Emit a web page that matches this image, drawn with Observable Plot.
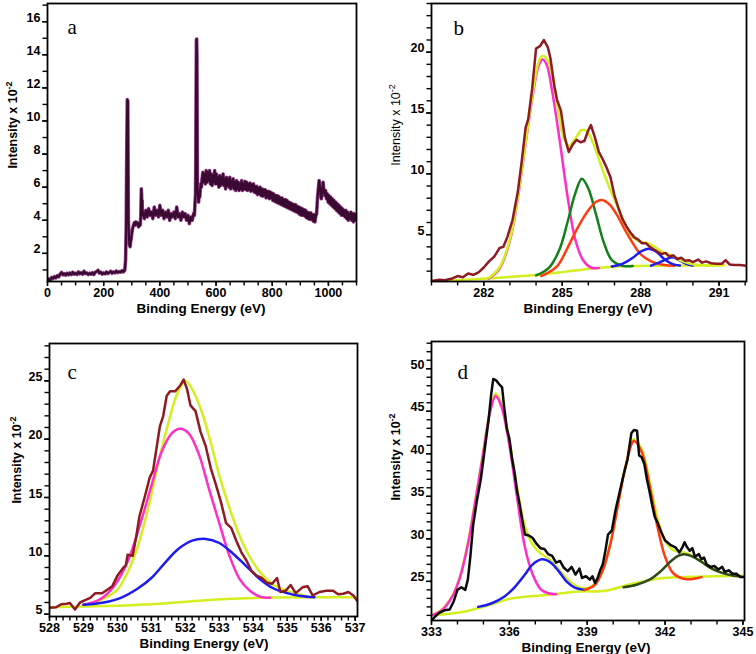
<!DOCTYPE html>
<html><head><meta charset="utf-8">
<script src="https://cdn.jsdelivr.net/npm/d3@7"></script>
<script src="https://cdn.jsdelivr.net/npm/@observablehq/plot@0.6"></script>
<style>
body{margin:0;background:#fff}
#wrap{position:relative;width:756px;height:654px;overflow:hidden;background:#fff}
</style>
</head><body><div id="wrap"></div>
<script>
// ---------- Panel a: survey spectrum [BE, I] ----------
const survey = [[0,0.32],[5,0.45],[10,0.38],[15,0.55],[20,0.48],[25,0.6],[30,0.52],[35,0.66],[40,0.58],[45,0.75],[50,0.85],[55,0.7],[60,0.78],[65,0.68],[70,0.8],[75,0.7],[80,0.82],[85,0.72],[90,0.86],[95,0.74],[100,0.8],[105,0.72],[110,0.88],[115,0.76],[120,0.84],[125,0.74],[130,0.92],[135,0.78],[140,0.82],[145,0.72],[150,0.8],[155,0.74],[160,0.84],[165,0.72],[170,0.86],[175,0.9],[180,0.98],[185,0.8],[190,0.86],[195,0.74],[200,0.82],[205,0.76],[210,0.88],[215,0.78],[220,0.84],[225,0.92],[230,0.8],[235,0.88],[240,0.82],[245,0.94],[250,0.84],[255,0.9],[260,0.86],[265,0.96],[270,0.88],[275,0.98],
[278,1.6],[280,3.5],[282,8.0],[284,11.3],[285,10.5],[286,11.2],[287,7.0],[288,4.0],[290,3.0],[292,2.5],[294,2.4],[296,2.7],[298,2.9],[300,3.2],[303,3.5],[306,3.7],[309,3.85],[312,3.7],[315,3.9],[318,3.75],[321,3.85],[324,3.6],[327,3.8],[330,3.7],[332,4.2],[334,5.9],[335,5.6],[336,4.6],[337,5.2],[338,4.3],[340,4.5],
[345,4.1],[350,4.6],[355,4.2],[360,4.7],[365,4.3],[370,4.5],[375,4.1],[380,4.8],[385,4.3],[390,4.6],[395,4.2],[400,4.9],[405,4.3],[410,4.6],[415,4.1],[420,4.5],[425,4.2],[430,4.6],[435,4.0],[440,4.4],[445,4.2],[450,4.5],[455,4.1],[460,4.8],[465,4.2],[470,4.4],[475,4.0],[480,4.5],[485,4.2],[490,4.4],[495,4.0],[500,4.3],[505,3.8],[510,4.2],[515,4.0],[520,4.4],[523,4.3],[525,5.0],[527,5.6],[528,8.0],[529,12.0],[530,14.9],[531,14.95],[532,14.0],[533,8.5],[534,6.0],[536,5.4],[538,5.1],[540,5.6],[542,5.4],[544,5.9],[546,6.2],[548,6.0],[550,6.5],
[553,6.9],[556,6.3],[559,6.8],[562,6.2],[565,7.0],[568,6.3],[571,6.9],[574,6.4],[577,7.0],[580,6.2],[583,6.8],[586,6.1],[589,6.7],[592,6.3],[595,7.0],[598,6.2],[601,6.8],[604,6.2],[607,6.6],[610,6.0],[613,6.7],[616,6.1],[619,6.6],[622,6.2],[625,6.8],[628,6.1],[631,6.5],[634,5.9],[637,6.6],[640,6.1],[643,6.5],[646,6.0],[649,6.6],[652,5.9],[655,6.4],[658,6.0],[661,6.5],[664,5.9],[667,6.3],[670,5.8],[673,6.4],[676,5.9],[679,6.3],[682,5.8],[685,6.2],[688,5.9],[691,6.4],[694,5.8],[697,6.2],
[700,5.9],[703,6.35],[706,5.85],[709,6.3],[712,5.8],[715,6.2],[718,5.85],[721,6.25],[724,5.75],[727,6.15],[730,5.8],[733,6.2],[736,5.7],[739,6.05],[742,5.65],[745,6.05],[748,5.55],[751,5.95],[754,5.6],[757,6.0],[760,5.5],[763,5.9],[766,5.45],[769,5.85],[772,5.5],[775,5.85],[778,5.35],[781,5.75],[784,5.4],[787,5.75],[790,5.3],[793,5.7],[796,5.35],[799,5.65],[802,5.2],[805,5.6],[808,5.15],[811,5.5],[814,5.1],[817,5.5],[820,5.05],[823,5.45],[826,5.0],[829,5.35],[832,4.95],[835,5.35],[838,4.9],[841,5.25],[844,4.85],[847,5.25],[850,4.8],[853,5.2],[856,4.75],[859,5.1],[862,4.7],[865,5.05],[868,4.65],[871,5.0],[874,4.6],[877,4.95],[880,4.55],[883,4.95],[886,4.5],[889,4.85],[892,4.45],[895,4.8],[898,4.35],[901,4.75],[904,4.3],[907,4.7],[910,4.3],[913,4.65],[916,4.25],[919,4.6],[922,4.15],[925,4.5],[928,4.1],[931,4.45],[934,4.05],[937,4.45],[940,4.05],[943,4.35],[946,3.95],[949,4.35],[952,3.9],[955,4.25],
[958,4.4],[961,5.3],[964,5.9],[967,6.4],[970,6.0],[972,5.5],[975,5.3],[978,5.8],[981,6.3],[984,5.8],[987,5.5],[990,5.8],[993,5.3],[996,5.6],[999,5.1],[1002,5.5],[1005,5.0],[1008,5.4],[1011,4.9],[1014,5.3],[1017,4.8],[1020,5.2],[1023,4.7],[1026,5.1],[1029,4.6],[1032,5.0],[1035,4.5],[1038,4.9],[1041,4.4],[1044,4.8],[1047,4.3],[1050,4.7],[1053,4.3],[1056,4.6],[1059,4.2],[1062,4.6],[1065,4.1],[1068,4.5],[1071,4.0],[1074,4.4],[1077,4.1],[1080,4.5],[1083,4.0],[1086,4.4],[1089,3.9],[1092,4.4],[1095,4.0],[1098,4.3],[1100,4.1]];

// ---------- Panel b: C 1s ----------
const c1sRaw = [[280.0,1.2],[280.3,1.3],[280.5,1.25],[280.8,1.4],[281.0,1.6],[281.2,1.5],[281.4,1.8],[281.6,1.7],[281.8,1.9],[282.0,2.3],[282.2,2.8],[282.4,3.2],[282.6,3.9],[282.75,4.0],[282.9,4.8],[283.1,6.2],[283.3,8.5],[283.45,11.0],[283.6,13.8],[283.7,14.5],[283.85,17.0],[284.0,20.3],[284.15,20.5],[284.3,21.0],[284.45,20.4],[284.55,19.5],[284.7,17.2],[284.8,16.1],[284.95,15.2],[285.1,13.0],[285.25,11.8],[285.4,12.4],[285.55,12.8],[285.7,12.6],[285.85,12.7],[286.0,13.6],[286.1,14.0],[286.25,13.0],[286.4,11.8],[286.55,11.2],[286.7,10.5],[286.85,9.7],[287.0,8.2],[287.15,7.2],[287.3,6.3],[287.45,5.7],[287.6,5.2],[287.75,4.8],[287.9,4.6],[288.05,4.3],[288.2,4.3],[288.35,4.0],[288.5,3.8],[288.65,3.6],[288.8,3.4],[288.95,3.5],[289.1,3.2],[289.25,3.3],[289.4,3.0],[289.55,3.1],[289.7,2.85],[289.85,2.9],[290.0,2.75],[290.2,2.95],[290.35,2.7],[290.5,2.8],[290.7,2.65],[290.9,2.6],[291.1,2.6],[291.25,2.9],[291.4,2.55],[291.6,2.5],[291.8,2.5],[292.05,2.45]];
const c1sBase = [[280.0,1.15],[281.0,1.25],[282.0,1.38],[283.0,1.52],[284.0,1.68],[285.0,1.92],[285.6,2.08],[286.2,2.24],[286.9,2.35],[287.6,2.42],[288.5,2.45],[290.0,2.47],[291.2,2.48]];
const c1sCC = [[282.2,1.4],[282.6,2.2],[283.0,4.5],[283.3,8.0],[283.6,12.5],[283.9,16.8],[284.1,18.9],[284.25,19.4],[284.4,19.0],[284.6,17.0],[284.9,12.8],[285.2,8.2],[285.5,4.6],[285.8,2.9],[286.1,2.3],[286.4,2.25]];
const c1sCO = [[284.0,1.65],[284.5,2.3],[284.9,3.8],[285.2,6.0],[285.5,8.4],[285.75,9.6],[286.0,8.8],[286.3,6.6],[286.6,4.3],[286.9,2.9],[287.3,2.45],[287.7,2.42]];
const c1sCO2 = [[284.2,1.6],[284.8,2.4],[285.2,3.9],[285.6,5.6],[286.0,7.0],[286.3,7.7],[286.52,7.85],[286.8,7.5],[287.1,6.6],[287.4,5.4],[287.7,4.3],[288.0,3.4],[288.4,2.8],[288.9,2.5],[289.3,2.45]];
const c1sOCO = [[286.9,2.38],[287.3,2.6],[287.7,3.1],[288.0,3.6],[288.3,3.85],[288.6,3.6],[288.9,3.0],[289.2,2.6],[289.5,2.46]];
const c1sPi = [[288.4,2.45],[288.7,2.7],[289.0,3.0],[289.2,3.15],[289.4,3.0],[289.7,2.65],[290.0,2.46]];
const c1sEnv = [[282.2,1.45],[282.6,2.3],[283.0,4.6],[283.3,8.1],[283.6,12.6],[283.9,17.0],[284.1,19.2],[284.25,19.7],[284.45,19.3],[284.65,17.8],[284.85,15.2],[285.05,13.0],[285.25,12.3],[285.5,12.9],[285.75,13.6],[285.95,13.5],[286.2,12.4],[286.5,10.6],[286.8,8.9],[287.1,7.4],[287.4,5.9],[287.7,4.8],[288.0,4.4],[288.3,4.3],[288.6,3.9],[288.9,3.5],[289.2,3.3],[289.5,2.9],[289.9,2.6],[290.3,2.5],[291.0,2.46]];

// ---------- Panel c: O 1s ----------
const o1sRaw = [[528.0,5.55],[528.2,5.6],[528.35,5.85],[528.5,5.9],[528.6,5.95],[528.75,5.4],[528.9,6.0],[529.05,6.2],[529.2,6.4],[529.35,6.8],[529.55,6.8],[529.7,7.1],[529.85,7.4],[530.0,8.3],[530.15,8.9],[530.25,9.2],[530.3,10.1],[530.45,10.0],[530.55,11.6],[530.65,13.4],[530.8,15.0],[530.95,16.7],[531.05,17.3],[531.15,19.2],[531.25,21.1],[531.35,22.0],[531.45,23.7],[531.55,24.1],[531.7,24.1],[531.85,24.6],[531.95,25.1],[532.05,24.3],[532.15,22.9],[532.3,22.4],[532.45,20.6],[532.6,19.4],[532.75,17.5],[532.9,16.1],[533.05,14.6],[533.2,12.8],[533.35,12.4],[533.5,11.3],[533.65,10.3],[533.8,9.6],[533.95,8.7],[534.1,8.3],[534.25,8.1],[534.4,7.7],[534.55,7.6],[534.7,8.1],[534.8,6.9],[534.95,7.0],[535.1,7.5],[535.25,6.8],[535.45,7.3],[535.6,7.4],[535.75,6.6],[535.95,6.9],[536.15,7.0],[536.35,7.0],[536.5,6.7],[536.65,6.75],[536.8,6.9],[536.95,6.6],[537.07,6.1]];
const o1sBase = [[528.0,5.6],[529.0,5.65],[530.0,5.72],[530.8,5.82],[531.5,5.95],[532.2,6.1],[532.9,6.25],[533.6,6.35],[534.5,6.42],[535.5,6.45],[537.07,6.45]];
const o1sEnv = [[529.0,5.8],[529.5,6.2],[530.0,7.1],[530.3,8.6],[530.6,10.8],[530.9,14.0],[531.2,17.9],[531.5,21.4],[531.75,23.8],[532.0,25.0],[532.25,24.0],[532.5,22.2],[532.75,19.7],[533.0,16.9],[533.3,14.1],[533.6,11.7],[533.9,9.9],[534.2,8.6],[534.6,7.5],[535.0,7.0],[535.5,6.6]];
const o1sA = [[529.0,5.8],[529.5,6.3],[529.9,7.4],[530.3,9.5],[530.7,13.0],[531.0,16.0],[531.3,18.9],[531.6,20.5],[531.85,20.9],[532.1,20.5],[532.4,18.7],[532.7,15.7],[533.0,12.8],[533.3,10.0],[533.6,8.0],[533.9,7.0],[534.2,6.5],[534.5,6.4]];
const o1sB = [[529.0,5.8],[529.6,6.0],[530.1,6.4],[530.6,7.2],[531.0,8.1],[531.4,9.4],[531.8,10.6],[532.2,11.3],[532.6,11.45],[533.0,11.1],[533.4,10.2],[533.8,9.1],[534.2,8.0],[534.6,7.2],[535.0,6.8],[535.4,6.55],[535.8,6.45]];

// ---------- Panel d: Sn 3d ----------
const sn3dRaw = [[333.0,20.4],[333.15,20.9],[333.3,21.3],[333.5,21.6],[333.7,21.7],[333.85,22.6],[334.0,24.0],[334.15,24.3],[334.3,24.0],[334.4,25.2],[334.5,28.0],[334.6,31.5],[334.75,34.5],[334.9,37.0],[335.05,40.5],[335.2,44.0],[335.3,47.0],[335.38,48.8],[335.5,48.6],[335.6,48.2],[335.72,47.8],[335.8,45.5],[335.9,43.0],[336.0,41.8],[336.1,39.5],[336.2,37.8],[336.3,35.6],[336.4,34.0],[336.5,32.2],[336.6,30.5],[336.75,30.4],[336.9,30.1],[337.05,29.4],[337.2,28.9],[337.35,28.8],[337.5,28.2],[337.65,28.0],[337.8,27.2],[337.95,27.4],[338.1,26.6],[338.25,26.2],[338.4,26.7],[338.55,25.8],[338.7,26.5],[338.8,25.4],[338.95,25.6],[339.1,25.2],[339.2,25.6],[339.3,24.8],[339.4,25.4],[339.5,26.3],[339.6,27.0],[339.7,28.6],[339.8,30.5],[339.95,31.0],[340.1,33.5],[340.25,35.5],[340.4,37.5],[340.55,39.3],[340.7,42.4],[340.8,42.8],[340.92,42.7],[341.0,39.8],[341.1,39.6],[341.2,38.8],[341.3,37.0],[341.4,35.6],[341.5,34.0],[341.6,32.6],[341.7,32.0],[341.85,30.8],[342.0,29.8],[342.2,29.3],[342.4,29.0],[342.55,28.4],[342.65,28.9],[342.75,29.6],[342.85,29.0],[342.95,28.6],[343.05,28.9],[343.15,27.9],[343.3,28.2],[343.4,27.6],[343.5,27.8],[343.6,27.0],[343.75,26.7],[343.9,26.8],[344.05,26.4],[344.2,26.7],[344.3,26.1],[344.45,26.3],[344.6,25.9],[344.75,25.9],[344.9,25.5],[345.06,25.5]];
const sn3dBase = [[333.0,21.0],[334.2,21.4],[335.1,22.1],[336.1,23.0],[337.4,23.4],[338.7,23.8],[339.7,23.9],[340.7,24.7],[341.9,25.4],[343.2,25.55],[345.0,25.65]];
const sn3dEnv = [[333.0,21.0],[333.4,21.7],[333.8,23.3],[334.1,25.6],[334.4,29.5],[334.7,34.8],[335.0,40.4],[335.25,45.0],[335.47,47.1],[335.7,45.9],[336.0,41.6],[336.3,36.0],[336.6,31.5],[336.9,29.3],[337.2,28.3],[337.5,27.7],[337.8,26.8],[338.1,25.7],[338.4,24.8],[338.7,24.3],[339.0,24.2],[339.3,24.7],[339.6,26.4],[339.9,29.6],[340.2,34.3],[340.5,38.9],[340.8,41.7],[341.1,40.5],[341.4,36.8],[341.7,32.5],[342.0,29.8],[342.3,28.7],[342.7,28.4],[343.0,28.1],[343.4,27.3],[343.8,26.5],[344.2,26.0],[344.6,25.7],[345.0,25.6]];
const sn3d52 = [[333.0,21.0],[333.4,21.6],[333.8,23.2],[334.1,25.5],[334.4,29.3],[334.7,34.6],[335.0,40.2],[335.25,44.8],[335.47,46.8],[335.7,45.5],[336.0,41.0],[336.3,34.8],[336.6,29.0],[336.9,25.8],[337.2,24.1],[337.5,23.6],[337.8,23.5]];
const sn3d52b = [[334.8,22.0],[335.3,22.4],[335.8,23.2],[336.2,24.3],[336.6,25.8],[336.9,27.0],[337.27,27.6],[337.6,27.2],[337.9,26.2],[338.2,25.0],[338.5,24.3],[338.9,24.0]];
const sn3d32 = [[338.9,24.0],[339.3,24.6],[339.6,26.3],[339.9,29.5],[340.2,34.2],[340.5,38.8],[340.8,41.5],[341.1,40.2],[341.4,36.3],[341.7,31.5],[342.0,27.9],[342.3,26.0],[342.7,25.3],[343.1,25.3],[343.4,25.5]];
const sn3d32b = [[340.4,24.3],[340.9,24.6],[341.4,25.2],[341.8,26.1],[342.2,27.3],[342.5,28.0],[342.73,28.2],[343.0,28.0],[343.4,27.3],[343.8,26.5],[344.2,26.0],[344.6,25.7],[344.9,25.6]];

// ---------- tick values ----------
const aXMajor = [0,200,400,600,800,1000];
const aXMinor = d3.range(0,1101,50);
const aYMajor = [2,4,6,8,10,12,14,16];
const aYMinor = d3.range(1,18,1);
const bXMajor = [282,285,288,291];
const bXMinor = d3.range(280,293,1);
const bYMajor = [5,10,15,20];
const bYMinor = d3.range(2,25,1);
const cXMajor = d3.range(528,538,1);
const cXMinor = d3.range(0,46).map(i => 528 + i*0.2);
const cYMajor = [5,10,15,20,25];
const cYMinor = d3.range(5,29,1);
const dXMajor = [333,336,339,342,345];
const dXMinor = d3.range(333,346,1);
const dYMajor = [25,30,35,40,45,50];
const dYMinor = d3.range(21,54,1);

const COL = {raw:"#8e1b22", pink:"#ff2ec8", lime:"#d4ef1f", green:"#13801a", red:"#ff3c0f", blue:"#1c1cf0", olive:"#2d4a1a", black:"#0b0b0b"};

function panel(cfg) {
  const marks = [];
  for (const s of cfg.series) {
    marks.push(Plot.line(s.data, {x: d => d[0], y: d => d[1], stroke: s.color, strokeWidth: s.w,
      curve: s.curve || "linear", clip: true, strokeLinejoin: "round", strokeLinecap: "round"}));
  }
  marks.push(Plot.axisX(cfg.xMinor, {anchor: "bottom", tickSize: 4.5, fill: "none", label: null, strokeWidth: 1.4}));
  marks.push(Plot.axisX(cfg.xMajor, {anchor: "bottom", tickSize: 5, tickPadding: 2, tickFormat: d => String(d), label: null, strokeWidth: 1.4}));
  marks.push(Plot.axisY(cfg.yMinor, {anchor: "left", tickSize: 4.5, fill: "none", label: null, strokeWidth: 1.4}));
  marks.push(Plot.axisY(cfg.yMajor, {anchor: "left", tickSize: 5, tickPadding: 2, tickFormat: d => String(d), label: null, strokeWidth: 1.4}));
  marks.push(Plot.frame({stroke: "#000", strokeWidth: 1.8}));
  marks.push(Plot.text([cfg.letter], {text: d => d, frameAnchor: "top-left", dx: cfg.letterPos[0], dy: cfg.letterPos[1],
    textAnchor: "start", lineAnchor: "bottom", fontFamily: "'Liberation Serif', 'Times New Roman', serif", fontSize: 21, fontWeight: "normal"}));
  const svg = Plot.plot({
    width: 378, height: cfg.h,
    marginLeft: cfg.m[0], marginRight: cfg.m[1], marginTop: cfg.m[2], marginBottom: cfg.m[3],
    x: {domain: cfg.xd}, y: {domain: cfg.yd},
    style: {fontFamily: "'Liberation Sans', Arial, sans-serif", fontSize: "12.5px", fontWeight: "bold", background: "transparent", overflow: "visible", color: "#000"},
    marks
  });
  // shift y tick labels slightly above their ticks (as in the reference)
  svg.querySelectorAll('g[aria-label="y-axis tick label"]').forEach(g => {
    g.setAttribute("transform", (g.getAttribute("transform") || "") + " translate(0,-4)");
  });
  const s = d3.select(svg);
  s.append("text").attr("x", cfg.xt[0]).attr("y", cfg.xt[1]).attr("text-anchor", "middle")
    .style("font-size", "13.5px").style("font-weight", "bold").attr("fill", "#000").text("Binding Energy (eV)");
  const yt = s.append("text").attr("transform", `translate(${cfg.yt[0]},${cfg.yt[1]}) rotate(-90)`)
    .attr("text-anchor", "middle").attr("dy", "0.35em").attr("fill", "#000")
    .style("font-size", "12.5px").style("font-weight", cfg.yBold ? "bold" : "normal");
  yt.append("tspan").text("Intensity x 10");
  yt.append("tspan").attr("dy", "-5").style("font-size", "9px").text("-2");
  svg.style.position = "absolute";
  svg.style.left = cfg.pos[0] + "px";
  svg.style.top = cfg.pos[1] + "px";
  document.getElementById("wrap").appendChild(svg);
}

panel({pos: [0, 0], h: 320, m: [47, 22, 3, 39], xd: [0, 1100], yd: [0.3, 17.1],
  xMajor: aXMajor, xMinor: aXMinor, yMajor: aYMajor, yMinor: aYMinor,
  letter: "a", letterPos: [20, 30], xt: [201, 313], yt: [13, 125], yBold: true,
  series: [{data: survey, color: "#9a4a90", w: 3.6}, {data: survey, color: "#3b0a32", w: 2.2}]});

panel({pos: [378, 0], h: 320, m: [53, 10, 3, 39], xd: [280, 292.05], yd: [1.15, 24],
  xMajor: bXMajor, xMinor: bXMinor, yMajor: bYMajor, yMinor: bYMinor,
  letter: "b", letterPos: [22, 31], xt: [210, 313], yt: [18, 125], yBold: false,
  series: [
    {data: c1sBase, color: COL.lime, w: 2.5, curve: "catmull-rom"},
    {data: c1sCC, color: COL.pink, w: 2.5, curve: "catmull-rom"},
    {data: c1sCO, color: COL.green, w: 2.5, curve: "catmull-rom"},
    {data: c1sCO2, color: COL.red, w: 2.5, curve: "catmull-rom"},
    {data: c1sOCO, color: COL.blue, w: 2.5, curve: "catmull-rom"},
    {data: c1sPi, color: COL.blue, w: 2.5, curve: "catmull-rom"},
    {data: c1sEnv, color: COL.lime, w: 2.5, curve: "catmull-rom"},
    {data: c1sRaw, color: COL.raw, w: 2.5}
  ]});

panel({pos: [0, 320], h: 334, m: [49, 21, 23, 38], xd: [528, 537.07], yd: [4.8, 28.2],
  xMajor: cXMajor, xMinor: cXMinor, yMajor: cYMajor, yMinor: cYMinor,
  letter: "c", letterPos: [18, 35], xt: [204, 328], yt: [17, 140], yBold: true,
  series: [
    {data: o1sBase, color: COL.lime, w: 2.5, curve: "catmull-rom"},
    {data: o1sEnv, color: COL.lime, w: 2.5, curve: "catmull-rom"},
    {data: o1sA, color: COL.pink, w: 2.5, curve: "catmull-rom"},
    {data: o1sB, color: COL.blue, w: 2.5, curve: "catmull-rom"},
    {data: o1sRaw, color: COL.raw, w: 2.5}
  ]});

panel({pos: [378, 320], h: 334, m: [53, 12, 21, 34], xd: [333, 345.06], yd: [20.4, 53.2],
  xMajor: dXMajor, xMinor: dXMinor, yMajor: dYMajor, yMinor: dYMinor,
  letter: "d", letterPos: [26, 37], xt: [208, 332], yt: [18, 137], yBold: true,
  series: [
    {data: sn3dBase, color: COL.lime, w: 2.5, curve: "catmull-rom"},
    {data: sn3dEnv, color: COL.lime, w: 2.5, curve: "catmull-rom"},
    {data: sn3d52, color: COL.pink, w: 2.5, curve: "catmull-rom"},
    {data: sn3d52b, color: COL.blue, w: 2.5, curve: "catmull-rom"},
    {data: sn3d32, color: COL.red, w: 2.5, curve: "catmull-rom"},
    {data: sn3d32b, color: COL.olive, w: 2.5, curve: "catmull-rom"},
    {data: sn3dRaw, color: COL.black, w: 2.5}
  ]});
</script></body></html>
